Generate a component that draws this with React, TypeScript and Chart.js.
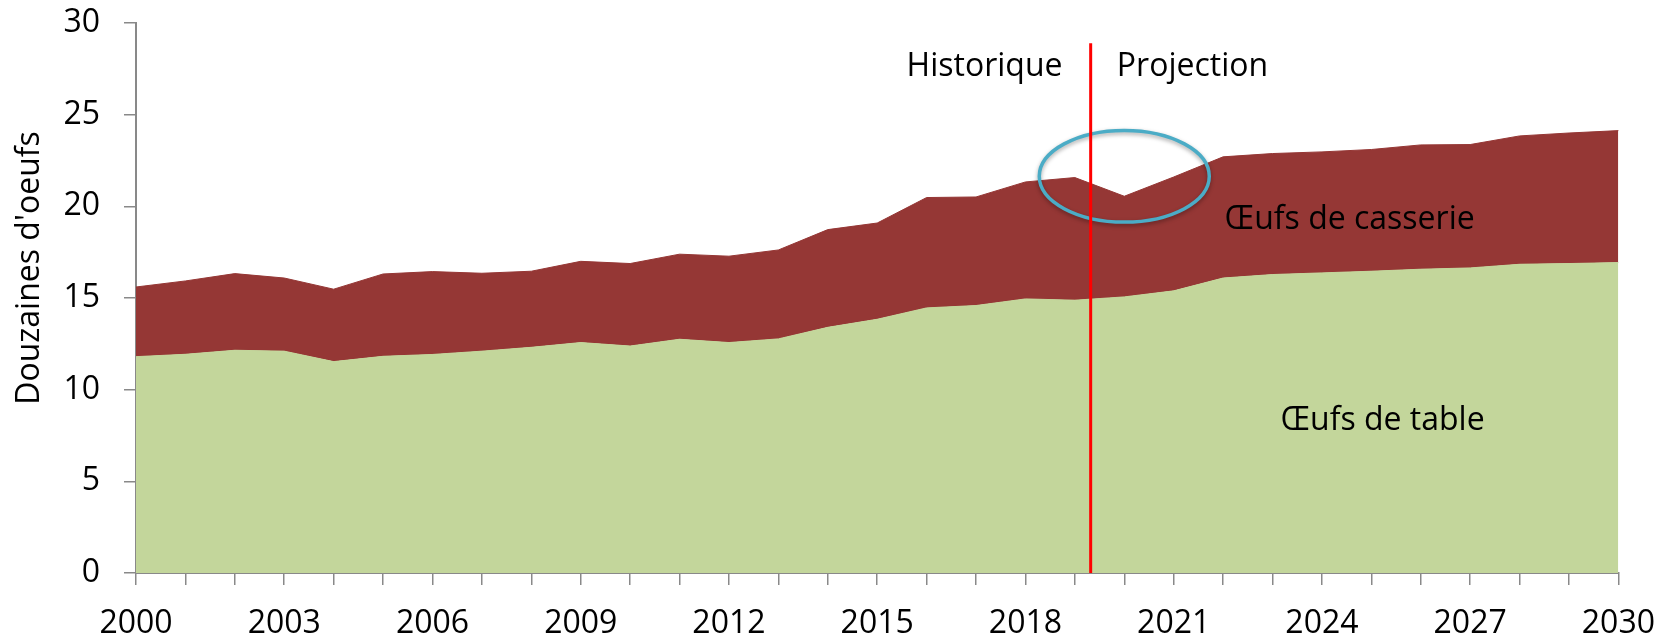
import React, { useEffect, useRef } from 'react';
import { Chart, registerables } from 'chart.js';

Chart.register(...registerables);

const years = [
  '2000', '2001', '2002', '2003', '2004', '2005', '2006', '2007', '2008', '2009',
  '2010', '2011', '2012', '2013', '2014', '2015', '2016', '2017', '2018', '2019',
  '2020', '2021', '2022', '2023', '2024', '2025', '2026', '2027', '2028', '2029', '2030',
];

// Œufs de table (douzaines)
const tableEggs = [
  11.8, 11.93, 12.15, 12.1, 11.53, 11.82, 11.92, 12.1, 12.31, 12.57,
  12.38, 12.75, 12.57, 12.77, 13.4, 13.84, 14.46, 14.59, 14.95, 14.88,
  15.06, 15.39, 16.09, 16.28, 16.37, 16.46, 16.57, 16.64, 16.84, 16.88, 16.93,
];

// Œufs de casserie (douzaines, empilés au-dessus)
const breakerEggs = [
  3.8, 4.0, 4.18, 3.99, 3.95, 4.49, 4.52, 4.25, 4.15, 4.43,
  4.5, 4.64, 4.71, 4.85, 5.33, 5.25, 6.02, 5.92, 6.38, 6.69,
  5.49, 6.21, 6.61, 6.6, 6.6, 6.64, 6.78, 6.73, 7.0, 7.12, 7.2,
];

const labelEvery = 3;
const yMin = 0;
const yMax = 30;
const yStep = 5;

const FONT = "'Open Sans', 'Noto Sans', sans-serif";
const FONT_SIZE = 32;
const AXIS_GREY = '#898989';

export default function App() {
  const ref = useRef<HTMLCanvasElement>(null);

  useEffect(() => {
    document.body.style.margin = '0';
    const canvas = ref.current;
    if (!canvas) return;

    const overlay = {
      id: 'overlay',
      afterDatasetsDraw(chart: any) {
        const ctx = chart.ctx as CanvasRenderingContext2D;
        const xs = chart.scales.x;
        const ys = chart.scales.y;
        const area = chart.chartArea;
        ctx.save();

        // ellipse highlighting 2020 dip
        const ex = xs.getPixelForValue(20);
        const ey = ys.getPixelForValue(21.64);
        const rx = xs.getPixelForValue(21.72) - ex;
        const ry = ys.getPixelForValue(21.64 - 2.5) - ey;
        ctx.save();
        ctx.shadowColor = 'rgba(0,0,0,0.35)';
        ctx.shadowBlur = 4;
        ctx.shadowOffsetY = 2;
        ctx.beginPath();
        ctx.ellipse(ex, ey, rx, ry, 0, 0, Math.PI * 2);
        ctx.strokeStyle = '#4BACC6';
        ctx.lineWidth = 3.5;
        ctx.stroke();
        ctx.restore();

        // red separator line
        const lx = xs.getPixelForValue(19.32);
        ctx.beginPath();
        ctx.moveTo(lx, ys.getPixelForValue(28.9));
        ctx.lineTo(lx, area.bottom);
        ctx.strokeStyle = '#FF0000';
        ctx.lineWidth = 3;
        ctx.stroke();

        ctx.fillStyle = '#000000';
        ctx.font = `${FONT_SIZE}px ${FONT}`;
        ctx.textBaseline = 'alphabetic';

        ctx.textAlign = 'right';
        ctx.fillText('Historique', xs.getPixelForValue(18.75), ys.getPixelForValue(27.1));
        ctx.textAlign = 'left';
        ctx.fillText('Projection', xs.getPixelForValue(19.85), ys.getPixelForValue(27.1));
        ctx.fillText('Œufs de casserie', xs.getPixelForValue(22.03), ys.getPixelForValue(18.75));
        ctx.fillText('Œufs de table', xs.getPixelForValue(23.16), ys.getPixelForValue(7.78));

        // y axis title
        ctx.save();
        ctx.translate(30, 268);
        ctx.rotate(-Math.PI / 2);
        ctx.textAlign = 'center';
        ctx.textBaseline = 'middle';
        ctx.fillText("Douzaines d'oeufs", 0, 0);
        ctx.restore();

        ctx.restore();
      },
    };

    const chart = new Chart(canvas, {
      type: 'line',
      data: {
        labels: years,
        datasets: [
          {
            label: 'Œufs de table',
            data: tableEggs,
            backgroundColor: '#C3D69B',
            borderColor: '#C3D69B',
            borderWidth: 1,
            fill: 'origin',
            pointRadius: 0,
            tension: 0,
          },
          {
            label: 'Œufs de casserie',
            data: breakerEggs,
            backgroundColor: '#953735',
            borderColor: '#953735',
            borderWidth: 1,
            fill: '-1',
            pointRadius: 0,
            tension: 0,
          },
        ],
      },
      options: {
        responsive: false,
        animation: false,
        layout: { padding: { top: 23, right: 54, left: 0, bottom: 0 } },
        plugins: {
          legend: { display: false },
          tooltip: { enabled: false },
        },
        scales: {
          x: {
            offset: false,
            grid: {
              display: true,
              drawOnChartArea: false,
              drawTicks: true,
              tickLength: 12,
              color: AXIS_GREY,
              lineWidth: 1.5,
              offset: false,
            },
            border: { display: true, color: AXIS_GREY, width: 2 },
            ticks: {
              autoSkip: false,
              maxRotation: 0,
              minRotation: 0,
              padding: 20,
              color: '#000000',
              font: { family: FONT, size: FONT_SIZE },
              callback: (_v: any, i: number) => (i % labelEvery === 0 ? years[i] : ''),
            },
            afterFit: (s: any) => {
              s.height = 64;
            },
          },
          y: {
            stacked: true,
            min: yMin,
            max: yMax,
            grid: {
              display: true,
              drawOnChartArea: false,
              drawTicks: true,
              tickLength: 12,
              color: AXIS_GREY,
              lineWidth: 1.5,
            },
            border: { display: true, color: AXIS_GREY, width: 2 },
            ticks: {
              stepSize: yStep,
              padding: 24,
              color: '#000000',
              font: { family: FONT, size: FONT_SIZE },
            },
            afterFit: (s: any) => {
              s.width = 136;
              s.paddingTop = 0;
              s.paddingBottom = 0;
            },
          },
        },
      },
      plugins: [overlay],
    });

    return () => chart.destroy();
  }, []);

  return (
    <div style={{ width: 1675, height: 637 }}>
      <canvas ref={ref} width={1675} height={637} style={{ display: 'block' }} />
    </div>
  );
}
